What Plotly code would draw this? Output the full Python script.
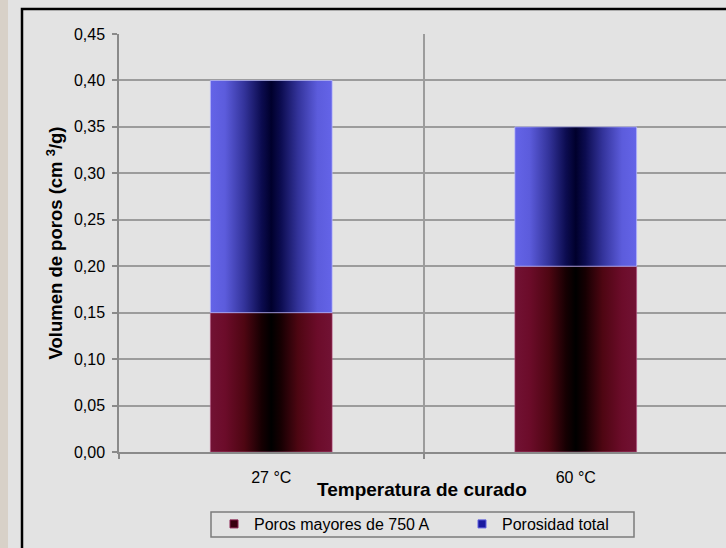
import plotly.graph_objects as go

# Data
categories = ["27 °C", "60 °C"]
poros_750 = [0.15, 0.20]          # Poros mayores de 750 A
porosidad_total = [0.40, 0.35]    # Porosidad total
series_names = ["Poros mayores de 750 A", "Porosidad total"]
y_ticks = [0.00, 0.05, 0.10, 0.15, 0.20, 0.25, 0.30, 0.35, 0.40, 0.45]
x_title = "Temperatura de curado"
y_title = "Volumen de poros (cm <sup>3</sup>/g)"

# Figure geometry (pixels)
W, H = 726, 548
ML, MR, MT, MB = 119, 0, 34, 96
PLOT_W = W - ML - MR
PLOT_H = H - MT - MB
CAT_PX = 304.5                    # pixel width of one category slot
BAR_WIDTH = 0.4                   # fraction of a category slot

BG = "#e3e3e3"
FONT = "Liberation Sans, Arial, sans-serif"

maroon_scale = [
    [0.0, "#721234"], [0.12, "#6c0c2a"], [0.28, "#4e0612"],
    [0.42, "#160002"], [0.5, "#000000"], [0.58, "#160002"],
    [0.72, "#4e0612"], [0.88, "#6c0c2a"], [1.0, "#721234"],
]
blue_scale = [
    [0.0, "#6464e8"], [0.12, "#5c5cdc"], [0.28, "#33339a"],
    [0.42, "#0c0c50"], [0.5, "#00002c"], [0.58, "#0c0c50"],
    [0.72, "#33339a"], [0.88, "#5c5cdc"], [1.0, "#6464e8"],
]


def px_to_paper_x(px):
    return (px - ML) / PLOT_W


def px_to_paper_y(py):
    return (H - MB - py) / PLOT_H


fig = go.Figure()

# Stacked bar segments drawn as gradient-filled rectangles on a numeric x axis
half = BAR_WIDTH / 2
for i, cat in enumerate(categories):
    segments = [
        (0.0, poros_750[i], maroon_scale, "rgba(190,90,140,0.55)"),
        (poros_750[i], porosidad_total[i], blue_scale, "rgba(190,190,255,0.7)"),
    ]
    for base, top, scale, edge in segments:
        fig.add_trace(go.Scatter(
            x=[i - half, i + half, i + half, i - half, i - half],
            y=[base, base, top, top, base],
            mode="lines",
            fill="toself",
            fillgradient=dict(type="horizontal", colorscale=scale),
            line=dict(color=edge, width=1),
            hoverinfo="skip",
            showlegend=False,
        ))

# Legend entries, one legend each so they can be spaced freely
legend_style = [
    (series_names[0], "#3a0010", "#8a2050", "legend"),
    (series_names[1], "#1a1aa0", "#6060e0", "legend2"),
]
for name, col, edge, lg in legend_style:
    fig.add_trace(go.Scatter(
        x=[None], y=[None], mode="markers", name=name, legend=lg,
        marker=dict(symbol="square", size=8, color=col,
                    line=dict(color=edge, width=1)),
    ))

x_right = -0.5 + PLOT_W / CAT_PX

legend_common = dict(
    orientation="h", xanchor="left", yanchor="middle",
    bgcolor="rgba(0,0,0,0)", borderwidth=0,
    font=dict(family=FONT, size=16, color="#000000"),
    itemclick=False, itemdoubleclick=False,
)

fig.update_layout(
    width=W, height=H,
    margin=dict(l=ML, r=MR, t=MT, b=MB, pad=0),
    paper_bgcolor=BG, plot_bgcolor=BG,
    separators=",.",
    font=dict(family=FONT, size=16, color="#000000"),
    showlegend=True,
    legend=dict(x=px_to_paper_x(214), y=px_to_paper_y(524), **legend_common),
    legend2=dict(x=px_to_paper_x(462), y=px_to_paper_y(524), **legend_common),
    xaxis=dict(
        range=[-0.5, x_right],
        tickmode="array",
        tickvals=list(range(len(categories))),
        ticktext=categories,
        ticks="outside", ticklen=10, tickcolor="rgba(0,0,0,0)",
        showgrid=False, zeroline=False,
        showline=True, linecolor="#8a8a8a", linewidth=1.5,
        tickfont=dict(family=FONT, size=16),
        minor=dict(
            tickmode="array",
            tickvals=[k - 0.5 for k in range(len(categories) + 1)],
            ticks="outside", ticklen=5, tickcolor="#8a8a8a", tickwidth=1.5,
            showgrid=True, gridcolor="#9c9c9c", gridwidth=1.5,
        ),
        fixedrange=True,
    ),
    yaxis=dict(
        range=[0, 0.45],
        tickmode="array", tickvals=y_ticks, tickformat=".2f",
        ticks="outside", ticklen=5, tickcolor="#8a8a8a", tickwidth=1.5,
        ticklabelstandoff=4,
        showgrid=True, gridcolor="#9c9c9c", gridwidth=1.5,
        zeroline=False,
        showline=True, linecolor="#8a8a8a", linewidth=1.5,
        tickfont=dict(family=FONT, size=16),
        title=dict(text=f"<b>{y_title}</b>", standoff=6,
                   font=dict(family=FONT, size=18.5)),
        fixedrange=True,
    ),
    annotations=[
        dict(text=f"<b>{x_title}</b>", xref="paper", yref="paper",
             x=px_to_paper_x(422), y=px_to_paper_y(489),
             xanchor="center", yanchor="middle", showarrow=False,
             font=dict(family=FONT, size=19, color="#000000")),
    ],
    shapes=[
        # textured side strip
        dict(type="rect", xref="paper", yref="paper", layer="below",
             x0=px_to_paper_x(-2), x1=px_to_paper_x(8),
             y0=px_to_paper_y(H + 2), y1=px_to_paper_y(-2),
             fillcolor="#d8d1c8", line=dict(width=0)),
        # chart frame
        dict(type="rect", xref="paper", yref="paper",
             x0=px_to_paper_x(22), x1=px_to_paper_x(W + 20),
             y0=px_to_paper_y(H + 20), y1=px_to_paper_y(9),
             fillcolor="rgba(0,0,0,0)", line=dict(color="#000000", width=2.5)),
        # legend box
        dict(type="rect", xref="paper", yref="paper",
             x0=px_to_paper_x(211), x1=px_to_paper_x(634),
             y0=px_to_paper_y(537), y1=px_to_paper_y(512),
             fillcolor="rgba(0,0,0,0)", line=dict(color="#7c7c7c", width=1.5)),
    ],
)

fig.write_html("out.html", config={"displayModeBar": False})
